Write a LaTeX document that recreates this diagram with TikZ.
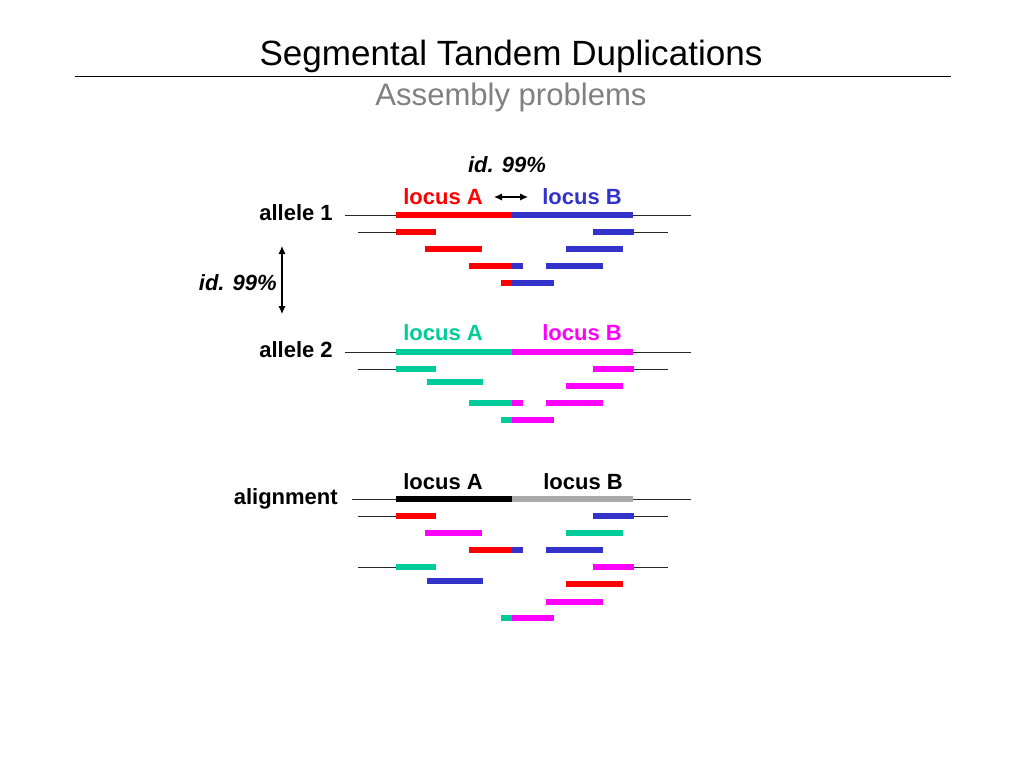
\documentclass[tikz,border=0pt]{standalone}
\usepackage{fontspec}
\setmainfont{Liberation Sans}
\usetikzlibrary{arrows.meta}

\definecolor{locred}{RGB}{255,0,0}
\definecolor{locblue}{RGB}{51,51,204}
\definecolor{locteal}{RGB}{0,204,153}
\definecolor{locmag}{RGB}{255,0,255}
\definecolor{locgray}{RGB}{170,170,170}

\tikzset{
  bar/.style={line width=4.5pt},
  strand/.style={line width=0.6pt, black!85},
  lbl/.style={font=\fontsize{16.5}{18}\selectfont\bfseries, inner sep=0pt},
  pct/.style={inner sep=0pt, font=\fontsize{16.5}{18}\selectfont\bfseries\itshape},
  twoway/.style={line width=0.9pt, {Latex[length=6pt,width=5.5pt]}-{Latex[length=6pt,width=5.5pt]}},
}

\begin{document}
\begin{tikzpicture}[x=0.75pt,y=-0.75pt]
    \useasboundingbox (0,0) rectangle (1024,768);

    \node[font=\fontsize{26.3}{30}\selectfont] (title) at (511,56) {Segmental Tandem Duplications};
    \draw[line width=0.7pt] (75,76) -- (951,76);
    \node[font=\fontsize{23.3}{26}\selectfont, text=gray] (subtitle) at (511,97) {Assembly problems};

    % allele 1
    \node[pct] (id1) at (507,165) {id. 99\%};
    \node[lbl, text=locred] (a1A) at (443,197) {locus A};
    \node[lbl, text=locblue] (a1B) at (582,197) {locus B};
    \coordinate (dupL) at (494,197);
    \coordinate (dupR) at (528,197);
    \draw[twoway] (dupL) -- (dupR);
    \node[lbl, anchor=east] (al1) at (333,213) {allele 1};

    \draw[strand] (345,215) -- (691,215);
    \draw[bar, locred] (396,215) -- (512,215);
    \draw[bar, locblue] (512,215) -- (633,215);

    \draw[strand] (358,232) -- (396,232);
    \draw[strand] (634,232) -- (668,232);
    \draw[bar, locred] (396,232) -- (436,232);
    \draw[bar, locblue] (593,232) -- (634,232);

    \draw[bar, locred] (425,249) -- (482,249);
    \draw[bar, locblue] (566,249) -- (623,249);

    \draw[bar, locred] (469,266) -- (512,266);
    \draw[bar, locblue] (512,266) -- (523,266);
    \draw[bar, locblue] (546,266) -- (603,266);

    \draw[bar, locred] (501,283) -- (512,283);
    \draw[bar, locblue] (512,283) -- (554,283);

    % identity between alleles
    \coordinate (idtop) at (282,246);
    \coordinate (idbot) at (282,314);
    \draw[twoway] (idtop) -- (idbot);
    \node[pct, anchor=east] (id2) at (277,283) {id. 99\%};

    % allele 2
    \node[lbl, text=locteal] (a2A) at (443,333) {locus A};
    \node[lbl, text=locmag] (a2B) at (582,333) {locus B};
    \node[lbl, anchor=east] (al2) at (333,350) {allele 2};

    \draw[strand] (345,352) -- (691,352);
    \draw[bar, locteal] (396,352) -- (512,352);
    \draw[bar, locmag] (512,352) -- (633,352);

    \draw[strand] (358,369) -- (396,369);
    \draw[strand] (634,369) -- (668,369);
    \draw[bar, locteal] (396,369) -- (436,369);
    \draw[bar, locmag] (593,369) -- (634,369);

    \draw[bar, locteal] (427,382) -- (483,382);
    \draw[bar, locmag] (566,386) -- (623,386);

    \draw[bar, locteal] (469,403) -- (512,403);
    \draw[bar, locmag] (512,403) -- (523,403);
    \draw[bar, locmag] (546,403) -- (603,403);

    \draw[bar, locteal] (501,420) -- (512,420);
    \draw[bar, locmag] (512,420) -- (554,420);

    % alignment
    \node[lbl] (a3A) at (443,482) {locus A};
    \node[lbl] (a3B) at (583,482) {locus B};
    \node[lbl, anchor=east] (aln) at (338,499) {alignment};

    \draw[strand] (352,499) -- (691,499);
    \draw[bar, black] (396,499) -- (512,499);
    \draw[bar, locgray] (512,499) -- (633,499);

    \draw[strand] (358,516) -- (396,516);
    \draw[strand] (634,516) -- (668,516);
    \draw[bar, locred] (396,516) -- (436,516);
    \draw[bar, locblue] (593,516) -- (634,516);

    \draw[bar, locmag] (425,533) -- (482,533);
    \draw[bar, locteal] (566,533) -- (623,533);

    \draw[bar, locred] (469,550) -- (512,550);
    \draw[bar, locblue] (512,550) -- (523,550);
    \draw[bar, locblue] (546,550) -- (603,550);

    \draw[strand] (358,567) -- (396,567);
    \draw[strand] (634,567) -- (668,567);
    \draw[bar, locteal] (396,567) -- (436,567);
    \draw[bar, locmag] (593,567) -- (634,567);

    \draw[bar, locblue] (427,581) -- (483,581);
    \draw[bar, locred] (566,584) -- (623,584);

    \draw[bar, locmag] (546,602) -- (603,602);

    \draw[bar, locteal] (501,618) -- (512,618);
    \draw[bar, locmag] (512,618) -- (554,618);
\end{tikzpicture}
\end{document}
